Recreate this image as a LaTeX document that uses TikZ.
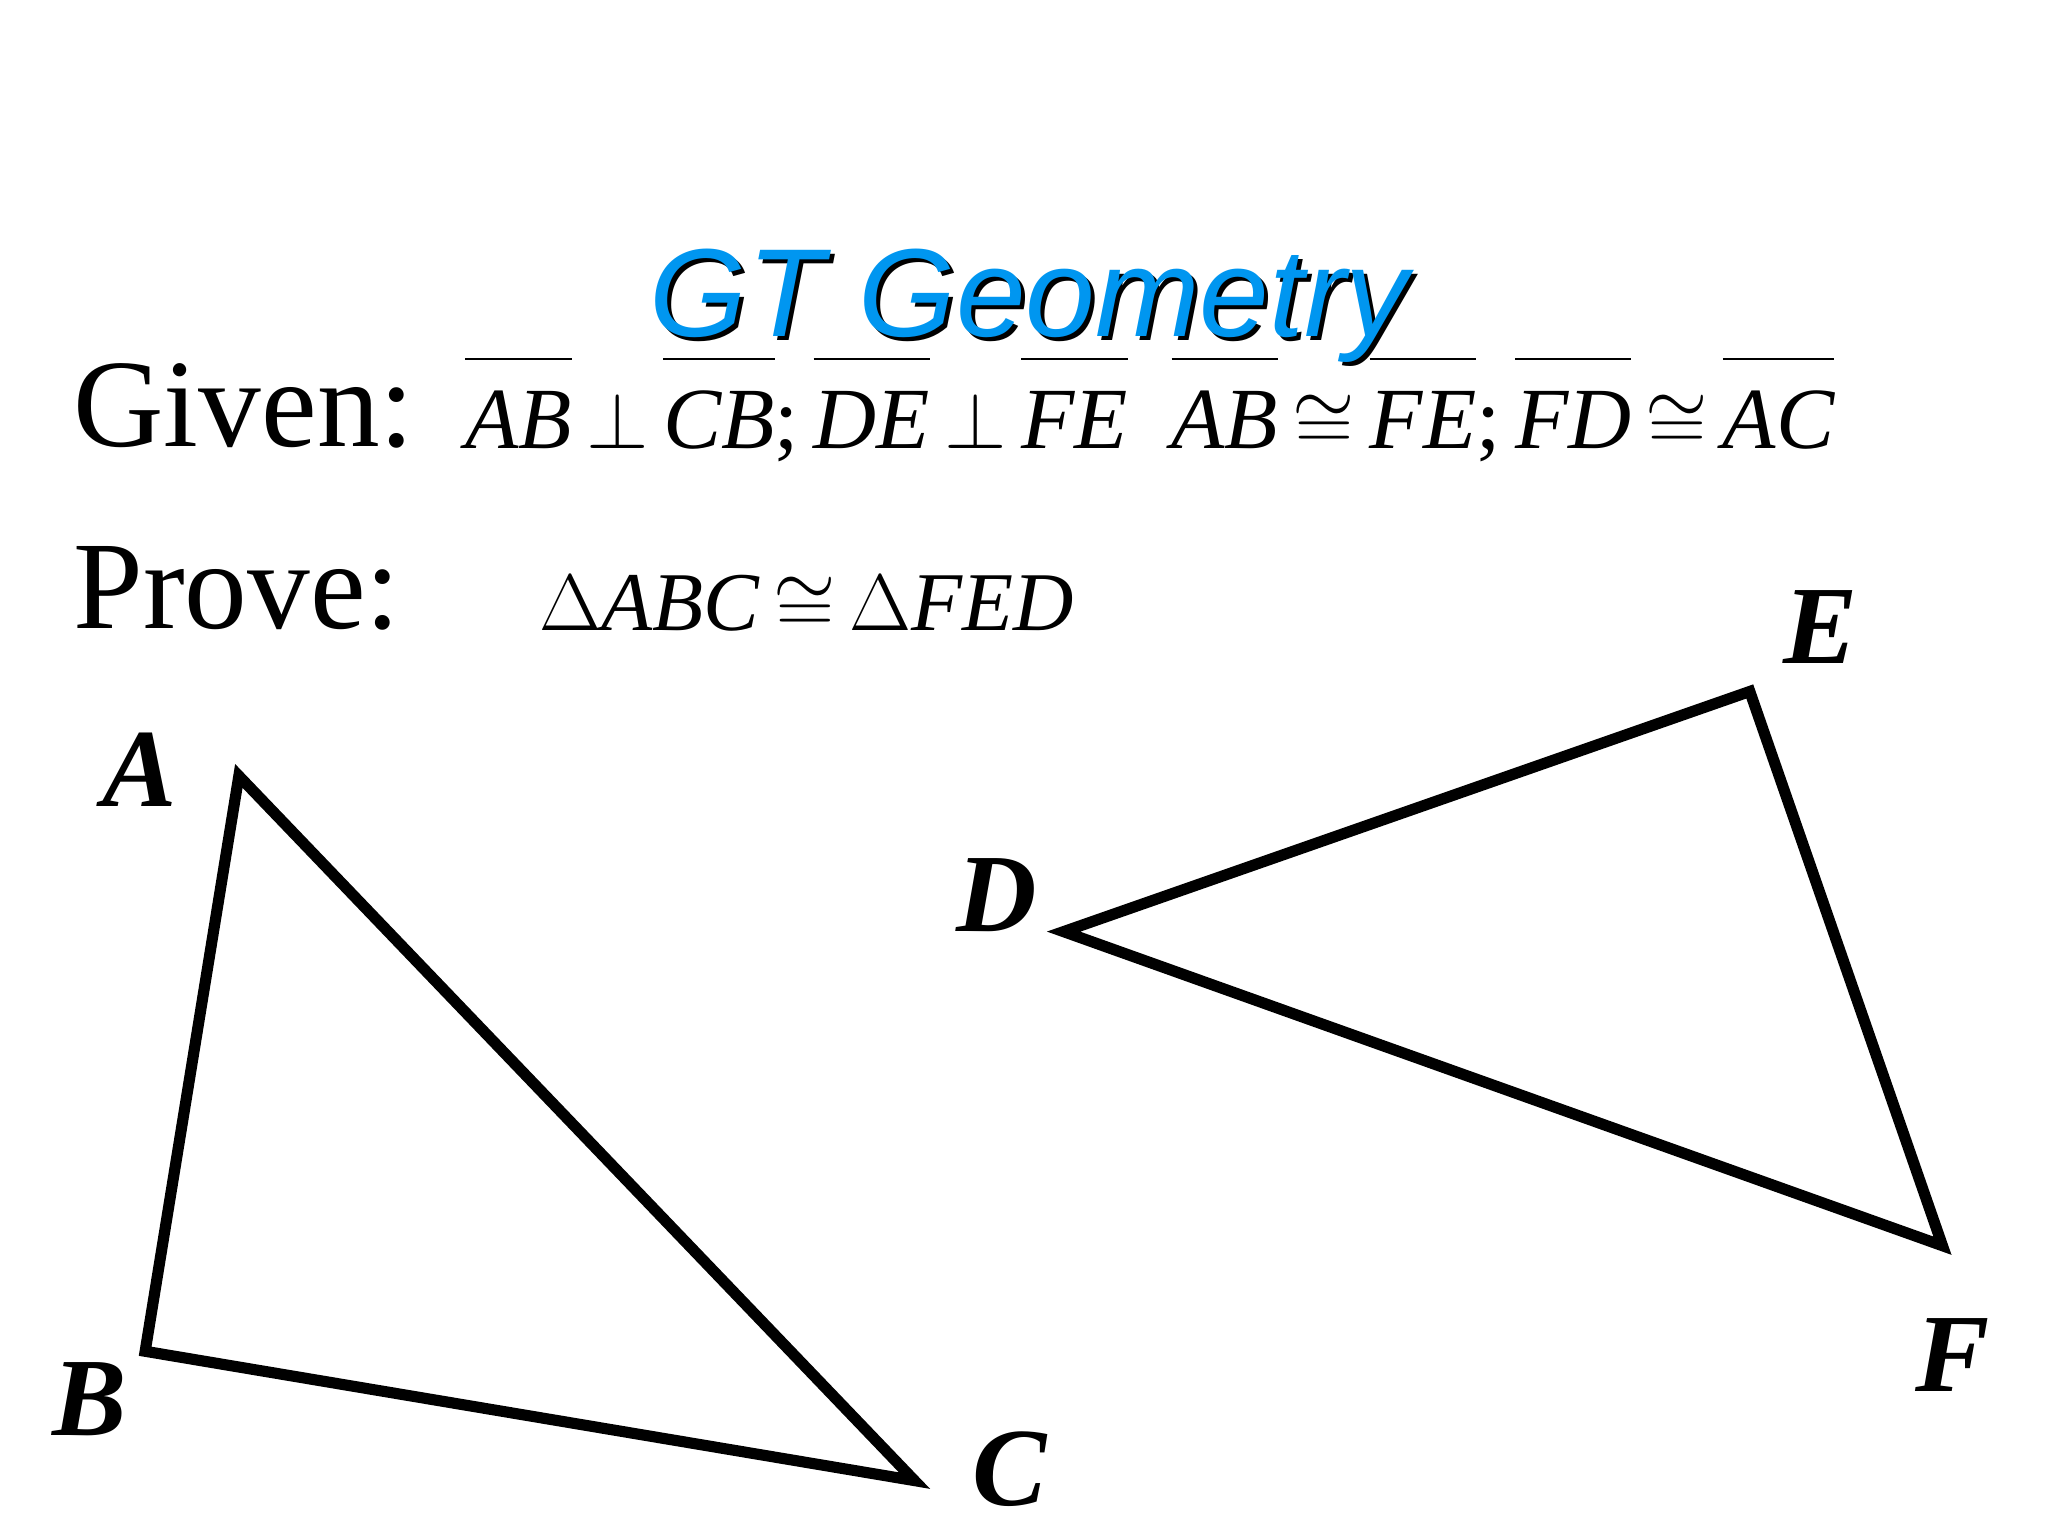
\documentclass[tikz,border=0pt]{standalone}
\usepackage{fontspec}
\setmainfont{Liberation Serif}
\newfontfamily\titlefont{Liberation Sans}
\definecolor{titleblue}{RGB}{0,150,240}
\newcommand{\seg}[1]{\ensuremath{\overline{\hbox{\rule{0pt}{0.95em}\itshape #1}}}}
\begin{document}
\begin{tikzpicture}[x=0.01cm,y=-0.01cm,
  lbl/.style={font=\fontsize{24pt}{24pt}\selectfont\bfseries\itshape},
  tri/.style={line width=2.4pt,line join=miter}]
\useasboundingbox (0,0) rectangle (1552,1164);
\node[anchor=base,text=black,font=\fontsize{27pt}{27pt}\selectfont\titlefont\itshape] at (783,258) {GT Geometry};
\node[anchor=base,text=titleblue,font=\fontsize{27pt}{27pt}\selectfont\titlefont\itshape] (title) at (780,255) {GT Geometry};
\node[anchor=base west,inner sep=0,font=\fontsize{27pt}{27pt}\selectfont] (given) at (55,338) {Given:};
\node[anchor=base west,inner sep=0,font=\fontsize{18.8pt}{18.8pt}\selectfont] (gm) at (352,340)
 {\seg{AB}\,$\perp$\,\seg{CB};\,\seg{DE}\,$\perp$\,\seg{FE}\hspace{0.5em}\seg{AB}\,$\cong$\,\seg{FE};\,\seg{FD}\,$\cong$\,\seg{AC}};
\node[anchor=base west,inner sep=0,font=\fontsize{27pt}{27pt}\selectfont] (prove) at (55,476) {Prove:};
\node[anchor=base west,inner sep=0,font=\fontsize{18pt}{18pt}\selectfont] (pm) at (408,478)
 {$\Delta$\textit{ABC}\,$\cong$\,$\Delta$\textit{FED}};
\coordinate (A) at (181,588);
\coordinate (B) at (110,1024);
\coordinate (C) at (693,1122);
\coordinate (D) at (806,706);
\coordinate (E) at (1326,524);
\coordinate (F) at (1472,944);
\draw[tri] (A) -- (B) -- (C) -- cycle;
\draw[tri] (D) -- (E) -- (F) -- cycle;
\node[lbl] (la) at (106,583) {A};
\node[lbl] (lb) at (68,1060) {B};
\node[lbl] (lc) at (765,1113) {C};
\node[lbl] (ld) at (755,678) {D};
\node[lbl] (le) at (1380,475) {E};
\node[lbl] (lf) at (1480,1027) {F};
\end{tikzpicture}
\end{document}
